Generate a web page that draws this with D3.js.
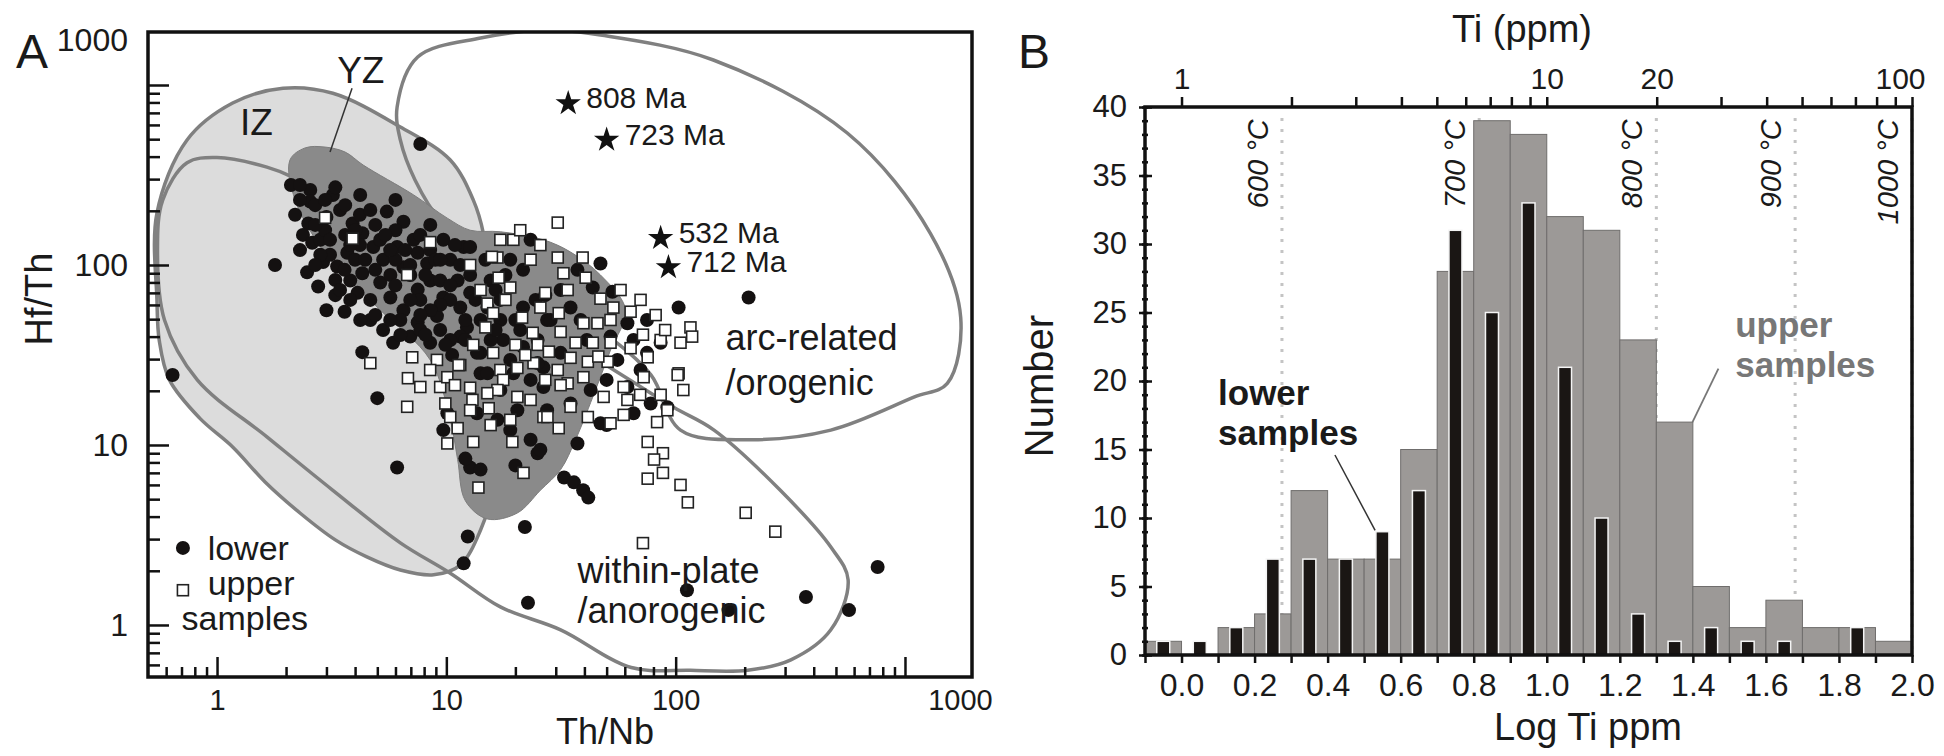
<!DOCTYPE html>
<html>
<head>
<meta charset="utf-8">
<script src="https://cdn.jsdelivr.net/npm/d3@7"></script>
<style>
  body { margin: 0; background: #fff; }
  svg text { font-family: "Liberation Sans", Arial, sans-serif; fill: #1a1a1a; }
</style>
</head>
<body>
<script>
// ---------- panel A : Hf/Th vs Th/Nb ----------
// [Th/Nb, Hf/Th]
const lowerSamples = [
  [7.7,470],[1.79,100],[0.64,24.5],[5.0,18.2],[6.1,7.5],[12.4,3.1],[11.9,2.2],[22,3.5],[4.3,32.8],[25,9.0],
  [20,7.7],[12.7,7.5],[14.1,7.3],[12.1,8.4],[32.6,6.6],[36,6.2],[39.5,5.6],[41.6,5.1],[37.3,10.2],[50,12.9],
  [22.7,1.33],[112,1.56],[170,1.21],[370,1.43],[570,1.21],[760,2.1],[103,58],[208,66],[47,102],[53,71],[23.3,138],
  [2.55,261],[2.55,225],[3.2,245],[2.5,170],[2.37,147],[2.6,133],[3.0,185],[3.44,202],[3.9,170],[3.7,117],
  [3.34,98],[2.9,104],[2.47,91],[2.76,76],[3.0,56],[3.6,55],[5.5,198],[6.5,174],[4.3,150],[4.8,126],
  [5.3,107],[4.3,90],[4.1,70],[4.66,64],[5.15,80],[6.1,126],[6.5,97],[7.2,138],[7.5,117],[8.25,102],
  [8.5,82],[5.7,66],[6.5,56],[7.5,73],[9.7,138],[10.4,107],[11.9,126],[11.2,82],[9.7,66],[9.1,52],
  [7.5,48],[11.5,58],[4.66,49.5],[5.3,43.5],[3.28,270],[6.0,156],[12.7,126],[2.3,121],[2.82,138],[3.11,114],
  [4.0,107],[3.62,147],[5.7,88],[6.96,88],[3.81,82],[3.28,68],
  [12.7,70],[15.6,82],[21.6,94],[19,107],[15.1,58],[17.2,49.5],[12.3,45],[11.5,40],[14.1,32.5],[17.7,38.3],
  [21.6,58],[27.5,49.5],[31.5,72.6],[37.3,94],[43.5,75],[34.8,58],[38.5,49.5],[25,38.3],[31.5,32.5],[41,38.3],
  [52,40],[61.6,47.5],[75,49.5],[65.5,38.3],[55.7,29.7],[75,32.5],[86,37],[70.3,26.1],[26.5,27],[19,29.7],[14.1,25],
  [5.86,37],[6.96,40],[8.5,37],[10.4,38.3],[13.6,32.5],[15.1,25],[19.6,25],[23.3,23],[25,28.5],[21.6,35],
  [26.5,21],[20.4,15.6],[19,12.1],[9.7,12.1],[10.1,15],[13.6,15],[16.7,13.8],[23.3,10.7],
  [25.7,9.4],[27.5,15.6],[34.8,17],[47,13.2],[65.5,15],[77.8,17],[92,16.2],[50,23],[61.6,21],[42.6,20.2],
  [2.19,190],[2.68,215],[2.96,156],[4.2,190],[4.9,167],[6.0,107],[7.7,64],[9.4,82],[8.5,121],[10.4,64],
  [12.1,49.5],[4.2,129],[3.6,94],[5.15,138],[6.0,230],[2.3,230],[2.1,278],[6.3,49.5],[7.7,43.5],[9.4,43.5],
  [10.6,31.6],[17.2,64],[21,43.5],[27,68],[17.2,20.2],[15.6,38.3],
  [2.3,278],[2.68,167],[2.82,114],[3.11,138],[3.28,82.5],[3.81,129],[4.01,156],[4.43,107],[4.9,94],[4.66,202],
  [5.42,147],[5.69,121],[5.99,77],[6.62,121],[6.96,100],[7.7,147],[8.1,88],[8.95,107],[9.41,60],[10.4,77],
  [10.9,129],[11.5,100],[12.7,88],[13.4,64],[14.1,49.5],[14.8,107],[16.4,72.6],[18.1,88],[3.81,64],[4.21,49.5],
  [5.69,49.5],[6.96,64],[8.51,56],[8.1,41],[9.9,36],[12.1,38.3],[16.4,43.5],[20,49.5],[24.5,64],[28.5,49.5],
  [3.62,215],[4.21,245],[2.96,230],[2.68,100],[3.44,72.6],[6.3,40.8],[4.9,52.7],[8.51,167],[9.41,107],[7.7,52.7]
];
const upperSamples = [
  [30.6,172],[17.2,138],[19.6,138],[16.7,110],[30.6,110],[39.3,110],[32.4,90],[40.5,85],[16.9,85],[19,75],
  [27,70],[15.1,61],[16,54],[25.7,58],[21.4,51],[30.9,54],[47,65],[53.5,58],[63.6,55],[39.6,47.5],
  [45.6,47.5],[14.8,45],[23.8,42],[31.5,42.5],[43.5,37],[52,37],[63.6,34.5],[72,41],[86,38.3],[116,45],
  [105,37],[16,32.5],[20,36],[25,36],[34.8,30.5],[41.4,29],[50.5,29],[75.5,30.7],[103,25],[24,28.5],
  [20.4,26.8],[17.2,26.1],[11.5,27.8],[30.6,26.1],[4.66,28.5],[7.1,30.7],[9.1,29.7],[11.3,27.8],[6.8,23.5],[7.7,21],
  [9.4,21],[10.1,23.8],[12.7,20.8],[13.1,36],[22.1,31.6],[28,33],[17.7,23],[16.7,20.2],[20.4,18.5],[23.3,17.8],
  [6.75,16.3],[9.9,17],[10.4,14.3],[11.2,12.4],[13,17.8],[15.3,16],[19,13.8],[19.4,10.4],[13.1,10.4],[10.1,10.2],
  [13.8,5.8],[21.7,7],[26.5,14.3],[15.1,19.4],[33.8,22],[39.6,23.8],[34.8,16.3],[41.4,14.3],[48.5,18.5],[59.3,21],
  [61.6,17.8],[59.3,14.7],[52,13.2],[72.5,23.8],[102,24.5],[108,20.2],[92,15.6],[83,13.4],[75.5,10.4],[88,9],
  [80.5,8.3],[75.5,6.5],[88,7],[105,6],[113,4.8],[30.9,12.4],[27.6,14.3],[72,2.85],[202,4.2],[272,3.3],
  [118,40],[2.96,183],[3.9,140],[6.75,88],[8.5,134],[15.8,111],[21,156],[25.7,129],[12.7,100],[23.3,107],
  [14.1,72.6],[18.1,64],[33.8,72.6],[57.5,72.6],[70.3,64],[81.8,52.7],[90,43.5],[52,49.5],[27,23],[15.6,12.9],
  [12.7,15.6],[10.9,21.5],[8.5,26.1],[46,31],[36.6,37],[31.5,21.5],[86,19],[70,19]
];
const starAges = ["808 Ma", "723 Ma", "532 Ma", "712 Ma"];
const starThNb = [34, 50, 86, 93];
const starHfTh = [790, 495, 141, 97];

// discrimination fields, outlines in [Th/Nb, Hf/Th]
const fieldIZ = [
  [0.547,194],[0.74,495],[1.17,794],[1.94,960],[3.2,900],[6.3,585],[10.4,383],[13.1,230],[14.5,150],
  [15.6,60],[16.7,12.1],[15.9,5.6],[14.1,3.37],[11.5,2.15],[8.8,1.9],[6.3,2.02],[4.5,2.39],[3.28,2.97],
  [2.3,4.19],[1.62,6.23],[1.17,9.75],[0.84,14.1],[0.62,23],[0.56,38],[0.547,64]
];
const fieldYZ = [
  [2.08,383],[2.42,447],[2.96,452],[3.62,424],[4.34,359],[7.2,245],[10.1,182],[12.7,156],[17.2,153],
  [26.5,138],[34.8,118],[47,88],[60.5,56.2],[52,33.7],[44.7,20.2],[36.6,10.7],[31.5,7.3],[25.7,5.6],
  [20.4,4.19],[15.1,3.88],[12.1,4.9],[11.2,8.3],[10.4,13.8],[8.5,29.7],[5.15,56.2],[3.11,107],[2.19,230]
];
const fieldWithinPlate = [
  [0.58,230],[0.74,370],[1.0,395],[1.65,350],[2.15,307],[6.3,134],[17.2,62],[47,29],[98,16.2],[147,12.1],
  [286,5.6],[475,2.71],[565,1.78],[475,0.94],[318,0.64],[206,0.56],[116,0.56],[64,0.58],[31.5,0.94],
  [17.2,1.26],[10.4,1.94],[6.3,2.86],[3.2,5.6],[1.65,11.1],[0.82,23],[0.59,49.5],[0.55,121]
];
const fieldArc = [
  [6.1,754],[7.5,1430],[14.1,1824],[27.5,2020],[47,1895],[146,1377],[560,541],[1290,150],[1750,51],
  [1530,22],[1100,18.5],[475,12.1],[206,10.7],[105,12.1],[78,24.5],[47,43.5],[25.7,72.6],[14.1,121],
  [9.4,178],[7.3,297],[6.3,495]
];
const decadeTicks = [1, 10, 100, 1000];

// ---------- panel B : Ti histogram ----------
const logTiBins = [-0.1,0.0,0.1,0.2,0.3,0.4,0.5,0.6,0.7,0.8,0.9,1.0,1.1,1.2,1.3,1.4,1.5,1.6,1.7,1.8,1.9];
const upperCounts = [1,0,2,3,12,7,7,15,28,39,38,32,31,23,17,5,2,4,2,2,1];
const lowerCounts = [1,1,2,7,7,7,9,12,31,25,33,21,10,3,1,2,1,1,0,2,0];
const countTicks = [0,5,10,15,20,25,30,35,40];
const logTiTicks = [0.0,0.2,0.4,0.6,0.8,1.0,1.2,1.4,1.6,1.8,2.0];
const tiPpmTicks = [1, 10, 20, 100];
const tempLabels = ["600 °C", "700 °C", "800 °C", "900 °C", "1000 °C"];
const tempLogTi = [0.275, 0.815, 1.30, 1.68, 2.0];

const svg = d3.select("body").append("svg")
  .attr("width", 1944).attr("height", 756);

drawPanelA();
drawPanelB();

function drawPanelA() {
  const x = d3.scaleLog().domain([0.5, 1960]).range([148, 972]);
  const y = d3.scaleLog().domain([0.514, 1970]).range([677, 32]);
  const g = svg.append("g");

  g.append("clipPath").attr("id", "clipA")
    .append("rect").attr("x", 148).attr("y", 32).attr("width", 824).attr("height", 645);
  const plot = g.append("g").attr("clip-path", "url(#clipA)");

  const outline = d3.line()
    .x(d => x(d[0])).y(d => y(d[1]))
    .curve(d3.curveCatmullRomClosed.alpha(0.5));

  plot.append("path").attr("d", outline(fieldIZ))
    .attr("fill", "#dcdcdc").attr("stroke", "none");
  [fieldWithinPlate, fieldArc, fieldIZ].forEach(f => {
    plot.append("path").attr("d", outline(f))
      .attr("fill", "none").attr("stroke", "#808080").attr("stroke-width", 3.5);
  });
  plot.append("path").attr("d", outline(fieldYZ))
    .attr("fill", "#8a8a8a").attr("stroke", "#7d7d7d").attr("stroke-width", 1);

  plot.selectAll("circle.lower").data(lowerSamples).enter()
    .append("circle").attr("class", "lower")
    .attr("cx", d => x(d[0])).attr("cy", d => y(d[1])).attr("r", 7)
    .attr("fill", "#141111");

  plot.selectAll("rect.upper").data(upperSamples).enter()
    .append("rect").attr("class", "upper")
    .attr("x", d => x(d[0]) - 5.5).attr("y", d => y(d[1]) - 5.5)
    .attr("width", 11).attr("height", 11)
    .attr("fill", "#fff").attr("stroke", "#222").attr("stroke-width", 1.6);

  // frame
  g.append("rect").attr("x", 148).attr("y", 32).attr("width", 824).attr("height", 645)
    .attr("fill", "none").attr("stroke", "#111").attr("stroke-width", 3.5);

  // axes (ticks point inward)
  const minor = d3.range(2, 10).flatMap(m => [0.1, 1, 10, 100].map(p => +(m * p).toPrecision(2)));
  const xMinor = minor.filter(v => v > 0.52 && v < 1950);
  const yMinor = minor.filter(v => v > 0.53 && v < 1950);

  const xAxisMinor = g.append("g").attr("transform", "translate(0,677)")
    .call(d3.axisBottom(x).tickValues(xMinor).tickSize(-10).tickFormat(""));
  const xAxisMajor = g.append("g").attr("transform", "translate(0,677)")
    .call(d3.axisBottom(x).tickValues(decadeTicks).tickSize(-20).tickPadding(12).tickFormat(d3.format("d")));
  const yAxisMinor = g.append("g").attr("transform", "translate(148,0)")
    .call(d3.axisLeft(y).tickValues(yMinor).tickSize(-12).tickFormat(""));
  const yAxisMajor = g.append("g").attr("transform", "translate(148,0)")
    .call(d3.axisLeft(y).tickValues(decadeTicks).tickSize(-21).tickPadding(20).tickFormat(d3.format("d")));

  [xAxisMinor, xAxisMajor, yAxisMinor, yAxisMajor].forEach(a => {
    a.select(".domain").remove();
    a.selectAll(".tick line").attr("stroke", "#111").attr("stroke-width", 2.5);
  });
  xAxisMajor.selectAll(".tick text").attr("font-size", 29).attr("fill", "#1a1a1a");
  yAxisMajor.selectAll(".tick text").attr("font-size", 32).attr("fill", "#1a1a1a");
  // the 1000 labels sit at the frame corners in the original figure
  xAxisMajor.selectAll(".tick").filter(d => d === 1000).select("text").attr("x", 55);
  yAxisMajor.selectAll(".tick").filter(d => d === 1000).select("text").attr("y", -45);

  g.append("text").attr("x", 605).attr("y", 744).attr("text-anchor", "middle")
    .attr("font-size", 36).text("Th/Nb");
  g.append("text").attr("transform", "translate(52,299) rotate(-90)").attr("text-anchor", "middle")
    .attr("font-size", 38).text("Hf/Th");
  g.append("text").attr("x", 16).attr("y", 68).attr("font-size", 48).text("A");

  // stars
  starAges.forEach((age, i) => {
    const sx = x(starThNb[i]), sy = y(starHfTh[i]);
    g.append("path").attr("d", d3.symbol(d3.symbolStar, 200)())
      .attr("transform", `translate(${sx},${sy})`).attr("fill", "#111");
    g.append("text").attr("x", sx + 18).attr("y", sy + 5).attr("font-size", 30).text(age);
  });

  // field labels
  const label = (tx, ty, txt, size) => g.append("text")
    .attr("x", x(tx)).attr("y", y(ty)).attr("font-size", size).text(txt);
  label(1.26, 527, "IZ", 37);
  label(3.34, 1026, "YZ", 37);
  g.append("line").attr("x1", x(3.88)).attr("y1", y(960)).attr("x2", x(3.11)).attr("y2", y(424))
    .attr("stroke", "#333").attr("stroke-width", 1.5);
  label(165, 33.7, "arc-related", 36);
  label(165, 19, "/orogenic", 36);
  label(37.3, 1.71, "within-plate", 36);
  label(37.3, 1.03, "/anorogenic", 36);

  // legend
  g.append("circle").attr("cx", x(0.71)).attr("cy", y(2.68)).attr("r", 7).attr("fill", "#141111");
  label(0.91, 2.3, "lower", 34);
  g.append("rect").attr("x", x(0.71) - 5.5).attr("y", y(1.56) - 5.5).attr("width", 11).attr("height", 11)
    .attr("fill", "#fff").attr("stroke", "#222").attr("stroke-width", 1.6);
  label(0.91, 1.47, "upper", 34);
  label(0.70, 0.94, "samples", 34);
}

function drawPanelB() {
  const x = d3.scaleLinear().domain([-0.1, 2.0]).range([1145, 1912]);
  const xTi = d3.scaleLog().domain([Math.pow(10, -0.1), 100]).range([1145, 1912]);
  const y = d3.scaleLinear().domain([0, 40]).range([655, 107]);
  const g = svg.append("g");
  const binW = 0.1;

  // temperature lines
  tempLogTi.forEach((t, i) => {
    g.append("line").attr("x1", x(t)).attr("x2", x(t)).attr("y1", y(39.2)).attr("y2", y(0))
      .attr("stroke", "#c4c4c4").attr("stroke-width", 3).attr("stroke-dasharray", "3,8");
    g.append("text").attr("transform", `translate(${x(t) - 14},${y(39.1)}) rotate(-90)`)
      .attr("text-anchor", "end").attr("font-size", 29).attr("font-style", "italic")
      .attr("fill", "#2a2a2a").text(tempLabels[i]);
  });

  // upper samples (wide grey bars)
  g.selectAll("rect.upperBar").data(logTiBins).enter()
    .append("rect").attr("class", "upperBar")
    .attr("x", d => x(d)).attr("width", d => x(d + binW) - x(d))
    .attr("y", (d, i) => y(upperCounts[i])).attr("height", (d, i) => y(0) - y(upperCounts[i]))
    .attr("fill", "#9c9997").attr("stroke", "#6f6d6c").attr("stroke-width", 1)
    .style("display", (d, i) => upperCounts[i] > 0 ? null : "none");

  // lower samples (narrow black bars)
  g.selectAll("rect.lowerBar").data(logTiBins).enter()
    .append("rect").attr("class", "lowerBar")
    .attr("x", d => x(d + binW / 2) - 6.5).attr("width", 13)
    .attr("y", (d, i) => y(lowerCounts[i])).attr("height", (d, i) => y(0) - y(lowerCounts[i]))
    .attr("fill", "#1a1614").attr("stroke", "#f4f4f4").attr("stroke-width", 1.5)
    .style("display", (d, i) => lowerCounts[i] > 0 ? null : "none");

  // frame
  g.append("rect").attr("x", 1145).attr("y", 107).attr("width", 767).attr("height", 548)
    .attr("fill", "none").attr("stroke", "#111").attr("stroke-width", 3.5);

  // bottom axis
  const bottomTicks = d3.range(-1, 21).map(k => k / 10);
  const xAxis = g.append("g").attr("transform", "translate(0,655)")
    .call(d3.axisBottom(x).tickValues(bottomTicks).tickSize(8).tickPadding(10)
      .tickFormat(d => logTiTicks.some(v => Math.abs(v - d) < 1e-6) ? d.toFixed(1) : ""));
  xAxis.selectAll(".tick text").attr("font-size", 32).attr("fill", "#1a1a1a");

  // top axis, Ti ppm
  const tiTicks = d3.range(1, 10).concat(d3.range(10, 101, 10));
  const topAxis = g.append("g").attr("transform", "translate(0,107)")
    .call(d3.axisTop(xTi).tickValues(tiTicks).tickSize(10).tickPadding(8)
      .tickFormat(d => tiPpmTicks.includes(d) ? d : ""));
  topAxis.selectAll(".tick text").attr("font-size", 30).attr("fill", "#1a1a1a");
  topAxis.selectAll(".tick").filter(d => d === 100).select("text").attr("x", -12);

  // left axis, ticks cross the frame line
  const yMinorTicks = d3.range(0, 41);
  const yOut = g.append("g").attr("transform", "translate(1145,0)")
    .call(d3.axisLeft(y).tickValues(countTicks).tickSize(6).tickPadding(12));
  yOut.selectAll(".tick text").attr("font-size", 31).attr("fill", "#1a1a1a");
  const yIn = g.append("g").attr("transform", "translate(1145,0)")
    .call(d3.axisRight(y).tickValues(countTicks).tickSize(7).tickFormat(""));
  const yMinOut = g.append("g").attr("transform", "translate(1145,0)")
    .call(d3.axisLeft(y).tickValues(yMinorTicks).tickSize(3).tickFormat(""));
  const yMinIn = g.append("g").attr("transform", "translate(1145,0)")
    .call(d3.axisRight(y).tickValues(yMinorTicks).tickSize(3).tickFormat(""));

  [xAxis, topAxis, yOut, yIn, yMinOut, yMinIn].forEach(a => {
    a.select(".domain").remove();
    a.selectAll(".tick line").attr("stroke", "#111").attr("stroke-width", 2.5);
  });

  // titles
  g.append("text").attr("x", 1522).attr("y", 42).attr("text-anchor", "middle")
    .attr("font-size", 38).text("Ti (ppm)");
  g.append("text").attr("x", 1588).attr("y", 740).attr("text-anchor", "middle")
    .attr("font-size", 38).text("Log Ti ppm");
  g.append("text").attr("transform", "translate(1053,386) rotate(-90)").attr("text-anchor", "middle")
    .attr("font-size", 40).text("Number");
  g.append("text").attr("x", 1018).attr("y", 68).attr("font-size", 48).text("B");

  // sample annotations
  g.append("text").attr("x", x(0.1)).attr("y", y(18.25)).attr("font-size", 35)
    .attr("font-weight", "bold").text("lower");
  g.append("text").attr("x", x(0.1)).attr("y", y(15.3)).attr("font-size", 35)
    .attr("font-weight", "bold").text("samples");
  g.append("line").attr("x1", x(0.42)).attr("y1", y(14.6)).attr("x2", x(0.53)).attr("y2", y(9.1))
    .attr("stroke", "#333").attr("stroke-width", 1.5);

  g.append("text").attr("x", x(1.516)).attr("y", y(23.2)).attr("font-size", 35)
    .attr("font-weight", "bold").style("fill", "#777").text("upper");
  g.append("text").attr("x", x(1.516)).attr("y", y(20.3)).attr("font-size", 35)
    .attr("font-weight", "bold").style("fill", "#777").text("samples");
  g.append("line").attr("x1", x(1.47)).attr("y1", y(20.9)).attr("x2", x(1.399)).attr("y2", y(17))
    .attr("stroke", "#777").attr("stroke-width", 1.8);
}
</script>
</body>
</html>
